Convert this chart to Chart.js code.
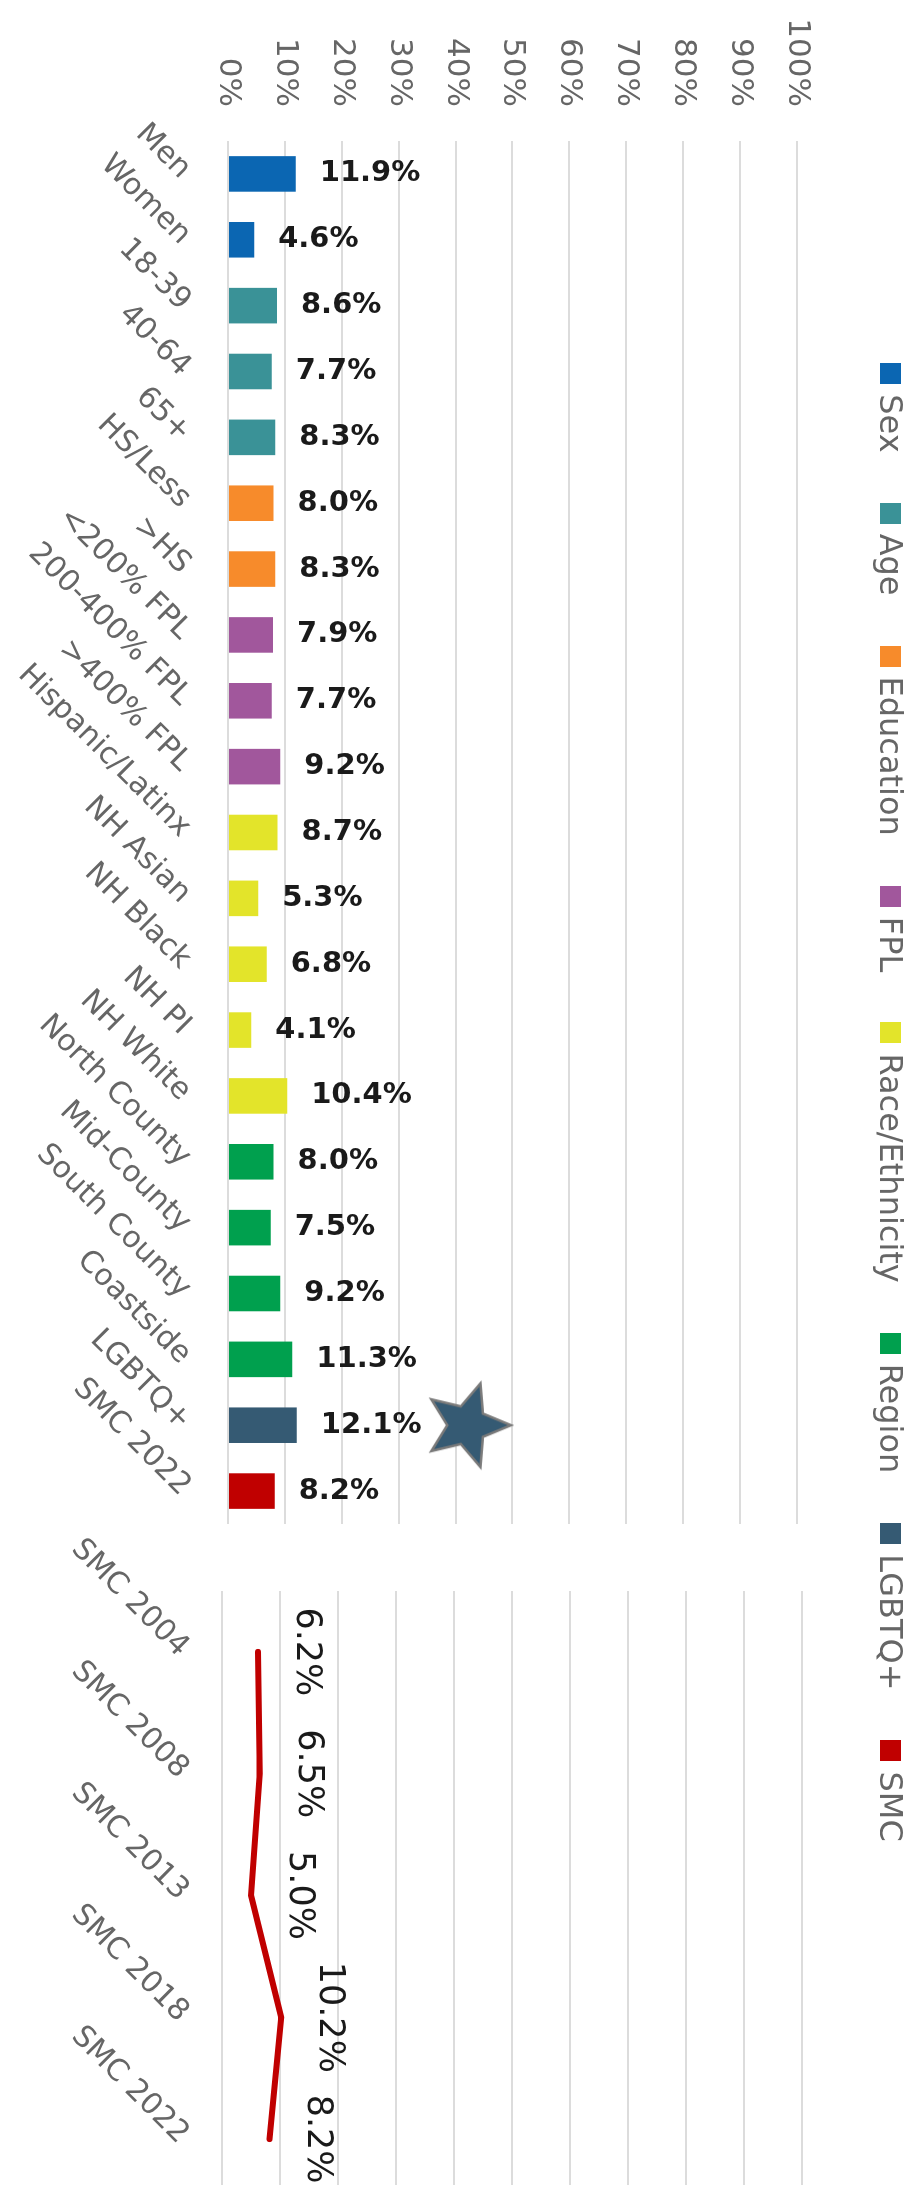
<!DOCTYPE html>
<html>
<head>
<meta charset="utf-8">
<script src="https://cdn.jsdelivr.net/npm/chart.js@4.4.1/dist/chart.umd.min.js"></script>
<style>
  html, body { margin: 0; padding: 0; background: #fff; }
  body { width: 917px; height: 2185px; overflow: hidden; position: relative; }
  /* the chart is laid out landscape, then turned a quarter clockwise */
  #land { position: absolute; left: 0; top: 0; width: 2185px; height: 917px;
          transform-origin: 0 0; transform: translate(917px, 0) rotate(90deg); }
  #legend { position: absolute; left: 0; top: 0; width: 2185px; height: 52px;
            box-sizing: border-box; padding-left: 20px;
            display: flex; justify-content: center; align-items: center; gap: 50px;
            font-family: 'DejaVu Sans', sans-serif; font-size: 32px; color: #666; }
  .item { display: flex; align-items: center; white-space: nowrap; }
  .box { width: 21px; height: 21px; margin-right: 10px; }
  #barCanvas { position: absolute; left: 0; top: 0; }
  #lineCanvas { position: absolute; left: 1440px; top: 0; }
</style>
</head>
<body>
<div id="land">
  <canvas id="barCanvas" width="1545" height="917"></canvas>
  <canvas id="lineCanvas" width="760" height="917"></canvas>
  <div id="legend"></div>
</div>
<script>
const categories = ['Men', 'Women', '18-39', '40-64', '65+', 'HS/Less', '>HS',
    '<200% FPL', '200-400% FPL', '>400% FPL', 'Hispanic/Latinx', 'NH Asian', 'NH Black',
    'NH PI', 'NH White', 'North County', 'Mid-County', 'South County', 'Coastside',
    'LGBTQ+', 'SMC 2022'];
const categoryGroups = ['Sex', 'Sex', 'Age', 'Age', 'Age', 'Education', 'Education',
    'FPL', 'FPL', 'FPL', 'Race/Ethnicity', 'Race/Ethnicity', 'Race/Ethnicity',
    'Race/Ethnicity', 'Race/Ethnicity', 'Region', 'Region', 'Region', 'Region',
    'LGBTQ+', 'SMC'];
const barValues = [11.9, 4.6, 8.6, 7.7, 8.3, 8.0, 8.3, 7.9, 7.7, 9.2, 8.7, 5.3, 6.8,
    4.1, 10.4, 8.0, 7.5, 9.2, 11.3, 12.1, 8.2];

const groups = ['Sex', 'Age', 'Education', 'FPL', 'Race/Ethnicity', 'Region', 'LGBTQ+', 'SMC'];
const groupColors = ['#0b66b2', '#3a9297', '#f78b2b', '#a1579c', '#e3e42a', '#00a04e', '#355a73', '#c00000'];

const trendYears = ['SMC 2004', 'SMC 2008', 'SMC 2013', 'SMC 2018', 'SMC 2022'];
const trendValues = [6.2, 6.5, 5.0, 10.2, 8.2];

const starCategory = 'LGBTQ+';
const starValue = 42;

const FONT = "'DejaVu Sans', sans-serif";
Chart.defaults.font.family = FONT;

// legend (html, spans both charts)
const legendEl = document.getElementById('legend');
groups.forEach((g, i) => {
    const item = document.createElement('div');
    item.className = 'item';
    const box = document.createElement('span');
    box.className = 'box';
    box.style.background = groupColors[i];
    item.appendChild(box);
    item.appendChild(document.createTextNode(g));
    legendEl.appendChild(item);
});

function makeStar(r, fill, stroke) {
    const c = document.createElement('canvas');
    const s = Math.ceil(r * 2 + 6);
    c.width = c.height = s;
    const g = c.getContext('2d');
    g.beginPath();
    for (let i = 0; i < 10; i++) {
        const rad = i % 2 ? r * 0.45 : r;
        const a = -Math.PI / 2 + i * Math.PI / 5;
        g.lineTo(s / 2 + rad * Math.cos(a), s / 2 + rad * Math.sin(a));
    }
    g.closePath();
    g.fillStyle = fill;
    g.fill();
    g.lineWidth = 2.5;
    g.strokeStyle = stroke;
    g.stroke();
    return c;
}

const pct = v => v.toFixed(1) + '%';

// value labels next to bars, turned so they read level once the page is rotated
const barLabels = {
    id: 'barLabels',
    afterDatasetsDraw(chart) {
        const ctx = chart.ctx;
        const meta = chart.getDatasetMeta(0);
        ctx.save();
        ctx.font = 'bold 29px ' + FONT;
        ctx.fillStyle = '#1a1a1a';
        ctx.textAlign = 'left';
        ctx.textBaseline = 'middle';
        meta.data.forEach((bar, i) => {
            ctx.save();
            ctx.translate(bar.x, bar.y - 24);
            ctx.rotate(-Math.PI / 2);
            ctx.fillText(pct(barValues[i]), 0, 0);
            ctx.restore();
        });
        ctx.restore();
    }
};

const lineLabels = {
    id: 'lineLabels',
    afterDatasetsDraw(chart) {
        const ctx = chart.ctx;
        const meta = chart.getDatasetMeta(0);
        ctx.save();
        ctx.font = '35px ' + FONT;
        ctx.fillStyle = '#1a1a1a';
        ctx.textAlign = 'center';
        ctx.textBaseline = 'middle';
        meta.data.forEach((pt, i) => {
            ctx.fillText(pct(trendValues[i]), pt.x, pt.y - 48);
        });
        ctx.restore();
    }
};

const catTicks = pad => ({
    color: '#666',
    font: { size: 30 },
    minRotation: 45,
    maxRotation: 45,
    autoSkip: false,
    padding: pad
});

// fixed axis height, and no extra side padding for the turned labels
const catFit = h => s => {
    s.height = h;
    s.paddingLeft = 0;
    s.paddingRight = 0;
};

const pctAxis = (showTicks, width) => ({
    min: 0,
    max: 100,
    ticks: {
        display: showTicks,
        stepSize: 10,
        callback: v => v + '%',
        color: '#666',
        font: { size: 31 },
        padding: 34
    },
    grid: { color: '#dcdcdc', lineWidth: 2, drawTicks: false },
    border: { display: false },
    afterFit: s => { s.width = width; }
});

new Chart(document.getElementById('barCanvas'), {
    data: {
        labels: categories,
        datasets: [
            {
                type: 'bar',
                data: barValues,
                backgroundColor: categoryGroups.map(g => groupColors[groups.indexOf(g)]),
                barPercentage: 0.54,
                categoryPercentage: 1,
                order: 2
            },
            {
                type: 'line',
                data: categories.map(c => c === starCategory ? starValue : null),
                showLine: false,
                pointStyle: makeStar(44, '#355a73', '#7a7a7a'),
                pointRadius: 44,
                clip: false,
                order: 1
            }
        ]
    },
    options: {
        responsive: false,
        animation: false,
        events: [],
        layout: { autoPadding: false, padding: { top: 120, right: 21 } },
        plugins: { legend: { display: false }, tooltip: { enabled: false } },
        scales: {
            x: {
                grid: { display: false },
                border: { display: false },
                ticks: catTicks(22),
                afterFit: catFit(228)
            },
            y: pctAxis(true, 141)
        }
    },
    plugins: [barLabels]
});

new Chart(document.getElementById('lineCanvas'), {
    type: 'line',
    data: {
        labels: trendYears,
        datasets: [{
            data: trendValues,
            borderColor: '#c00000',
            borderWidth: 6,
            borderCapStyle: 'round',
            pointRadius: 0,
            tension: 0
        }]
    },
    options: {
        responsive: false,
        animation: false,
        events: [],
        layout: { autoPadding: false, padding: { top: 115 } },
        plugins: { legend: { display: false }, tooltip: { enabled: false } },
        scales: {
            x: {
                offset: true,
                grid: { display: false },
                border: { display: false },
                ticks: catTicks(18),
                afterFit: catFit(222)
            },
            y: pctAxis(false, 151)
        }
    },
    plugins: [lineLabels]
});
</script>
</body>
</html>
